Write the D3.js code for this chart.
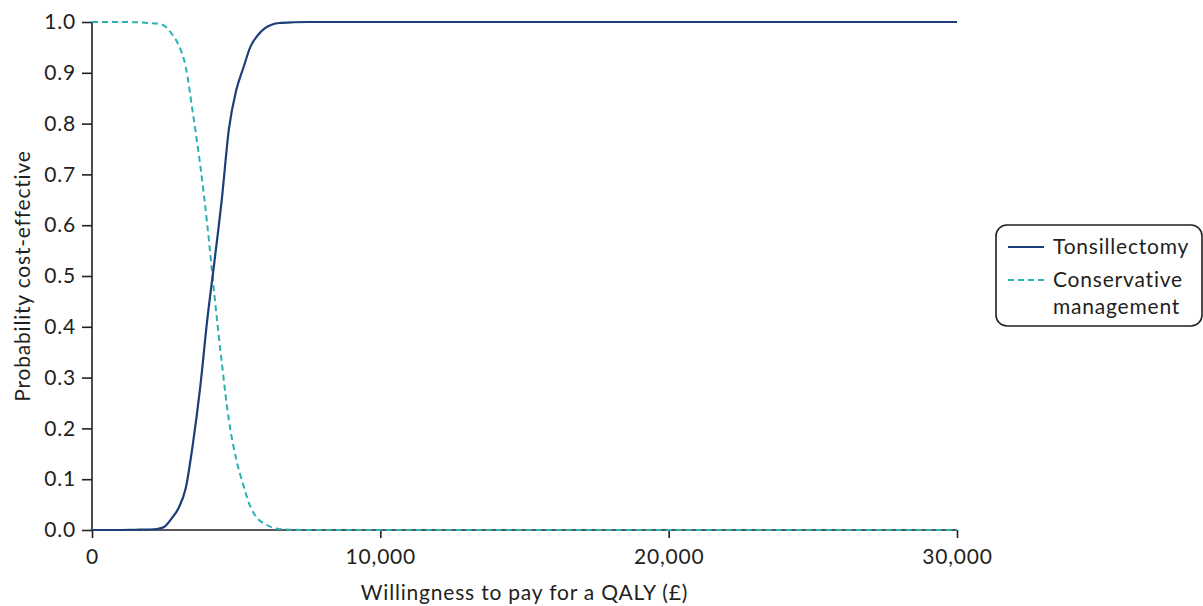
<!DOCTYPE html>
<html>
<head>
<meta charset="utf-8">
<script src="https://cdn.jsdelivr.net/npm/d3@7"></script>
<style>
  html, body { margin: 0; padding: 0; background: #fff; }
  svg { display: block; font-family: Lato, "Open Sans", sans-serif; }
  .lbl { font-size: 21px; letter-spacing: 0.8px; fill: #231f20; }
</style>
</head>
<body>
<svg id="chart" width="1203" height="606"></svg>
<script>
// Willingness-to-pay thresholds (£ per QALY)
const wtp = [0, 500, 1000, 1500, 2000, 2250, 2500, 2750, 3000, 3250, 3500, 3750,
  4000, 4250, 4500, 4750, 5000, 5250, 5500, 5750, 6000, 6250, 6500, 7000, 7500,
  8000, 10000, 15000, 20000, 25000, 30000];

// Probability that each strategy is cost-effective at each threshold
const tonsillectomy = [0, 0, 0, 0.0005, 0.001, 0.002, 0.006, 0.022, 0.043, 0.082, 0.17, 0.28,
  0.415, 0.53, 0.65, 0.79, 0.865, 0.91, 0.952, 0.974, 0.988, 0.995, 0.998, 0.9995, 1,
  1, 1, 1, 1, 1, 1];
const conservative = [1, 1, 1, 0.9995, 0.998, 0.997, 0.993, 0.978, 0.955, 0.912, 0.82, 0.72,
  0.60, 0.46, 0.33, 0.215, 0.14, 0.088, 0.045, 0.022, 0.012, 0.005, 0.002, 0.0005, 0,
  0, 0, 0, 0, 0, 0];

const xTicks = [0, 10000, 20000, 30000];
const yTicks = [0, 0.1, 0.2, 0.3, 0.4, 0.5, 0.6, 0.7, 0.8, 0.9, 1.0];

const seriesNames = ["Tonsillectomy", "Conservative management"];
const seriesColors = ["#1d3f78", "#2bb0b4"];

const svg = d3.select("#chart");
const plotLeft = 92, plotRight = 957, plotTop = 22, plotBottom = 530;

const x = d3.scaleLinear().domain([0, 30000]).range([plotLeft, plotRight]);
const y = d3.scaleLinear().domain([0, 1]).range([plotBottom, plotTop]);

const axisColor = "#231f20";

// Axes
const xAxis = svg.append("g")
  .attr("transform", `translate(0,${plotBottom})`)
  .call(d3.axisBottom(x).tickValues(xTicks).tickSize(8).tickPadding(11)
    .tickFormat(d3.format(",")));
const yAxis = svg.append("g")
  .attr("transform", `translate(${plotLeft},0)`)
  .call(d3.axisLeft(y).tickValues(yTicks).tickSize(10).tickPadding(6)
    .tickFormat(d3.format(".1f")));

[xAxis, yAxis].forEach(g => {
  g.attr("font-size", null).attr("font-family", null);
  g.select(".domain").attr("stroke", axisColor).attr("stroke-width", 1.6);
  g.selectAll(".tick line").attr("stroke", axisColor).attr("stroke-width", 1.6);
  g.selectAll(".tick text").attr("class", "lbl").attr("fill", null);
});
xAxis.select(".domain").attr("d", `M${plotLeft},0H${plotRight}`);
yAxis.select(".domain").attr("d", `M0,${plotBottom}V${plotTop}`);

// Axis titles
svg.append("text").attr("class", "lbl")
  .attr("x", (plotLeft + plotRight) / 2).attr("y", 600)
  .attr("text-anchor", "middle")
  .text("Willingness to pay for a QALY (£)");
svg.append("text").attr("class", "lbl")
  .attr("transform", `translate(30,${(plotTop + plotBottom) / 2}) rotate(-90)`)
  .attr("text-anchor", "middle")
  .text("Probability cost-effective");

// Curves
const line = d3.line().x(d => x(d[0])).y(d => y(d[1])).curve(d3.curveMonotoneX);

svg.append("path")
  .datum(wtp.map((w, i) => [w, conservative[i]]))
  .attr("fill", "none").attr("stroke", seriesColors[1])
  .attr("stroke-width", 2).attr("stroke-dasharray", "6,4")
  .attr("d", line);

svg.append("path")
  .datum(wtp.map((w, i) => [w, tonsillectomy[i]]))
  .attr("fill", "none").attr("stroke", seriesColors[0])
  .attr("stroke-width", 2.2)
  .attr("d", line);

// Legend
const legend = svg.append("g");
legend.append("rect")
  .attr("x", 996).attr("y", 225).attr("width", 206).attr("height", 101)
  .attr("rx", 11).attr("ry", 11)
  .attr("fill", "#fff").attr("stroke", axisColor).attr("stroke-width", 1.6);

legend.append("line")
  .attr("x1", 1008).attr("x2", 1044).attr("y1", 247).attr("y2", 247)
  .attr("stroke", seriesColors[0]).attr("stroke-width", 2.2);
legend.append("text").attr("class", "lbl")
  .attr("x", 1053).attr("y", 254)
  .text(seriesNames[0]);

legend.append("line")
  .attr("x1", 1008).attr("x2", 1044).attr("y1", 280).attr("y2", 280)
  .attr("stroke", seriesColors[1]).attr("stroke-width", 2)
  .attr("stroke-dasharray", "6,4");
const t2 = legend.append("text").attr("class", "lbl")
  .attr("x", 1053).attr("y", 287);
t2.append("tspan").attr("x", 1053).text("Conservative");
t2.append("tspan").attr("x", 1053).attr("dy", 27).text("management");
</script>
</body>
</html>
